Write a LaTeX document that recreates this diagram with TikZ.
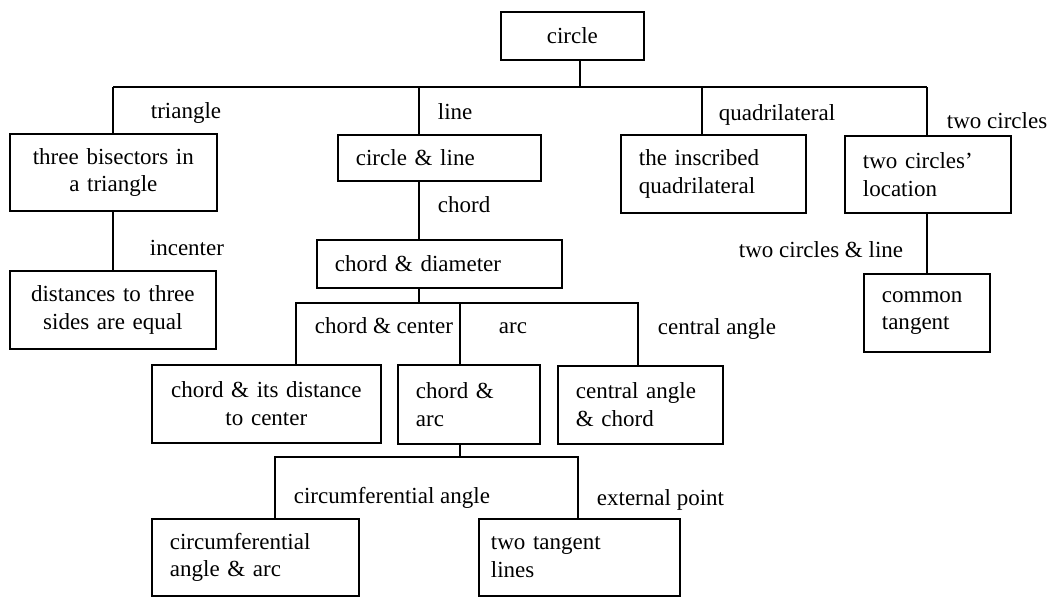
\documentclass[tikz,border=0pt]{standalone}
\usepackage{fontspec}
\setmainfont{Liberation Serif}
\begin{document}
\begin{tikzpicture}[x=0.02cm,y=-0.02cm,line width=1pt,
  every node/.style={font=\fontsize{13.1}{15.7}\selectfont},
  box/.style={draw, anchor=north west, inner xsep=0.36cm, inner ysep=0pt,
    text width=#1, align=left, minimum height=1.56cm},
  lbl/.style={anchor=base west, inner sep=0pt}]
\useasboundingbox (0,0) rectangle (1063,596);
	%boxes
	\node[box=2.14cm, align=center, minimum height=0.96cm] (root) at (500,11) {circle};
	\node[box=3.42cm, align=center, minimum height=1.54cm] (tri) at (9,133) {three bisectors in\\a triangle};
	\node[box=3.40cm, align=center] (dist) at (9,270) {distances to three\\sides are equal};
	\node[box=3.34cm, minimum height=0.92cm] (cl) at (337,134) {circle \& line};
	\node[box=4.18cm, minimum height=0.96cm] (cd) at (316,239) {chord \& diameter};
	\node[box=3.86cm, align=center] (cdc) at (151,364) {chord \& its distance\\to center};
	\node[box=2.12cm, minimum height=1.58cm] (ca) at (397,364) {chord \&\\arc};
	\node[box=2.58cm] (cac) at (557,365) {central angle\\\& chord};
	\node[box=3.42cm, minimum height=1.54cm] (caa) at (151,518) {circumferential\\angle \& arc};
	\node[box=3.54cm, inner xsep=0.24cm, minimum height=1.54cm] (ttl) at (478,518) {two tangent\\lines};
	\node[box=2.98cm] (iq) at (620,134) {the inscribed\\quadrilateral};
	\node[box=2.60cm, minimum height=1.54cm] (tcl) at (844,135) {two circles'\\location};
	\node[box=1.80cm] (ct) at (863,273) {common\\tangent};
	%junctions
	\coordinate (s0) at (580,87);
	\coordinate (b1) at (113,87);
	\coordinate (b2) at (419,87);
	\coordinate (b3) at (702,87);
	\coordinate (b4) at (927,87);
	\coordinate (c1) at (296,303);
	\coordinate (c2) at (460,303);
	\coordinate (c3) at (638,303);
	\coordinate (d1) at (275,457);
	\coordinate (d2) at (578,457);
	%connectors
	\draw (s0 |- root.south) -- (s0);
	\draw (b1) -- (b4);
	\draw (b1) -- (b1 |- tri.north);
	\draw (b2) -- (b2 |- cl.north);
	\draw (b3) -- (b3 |- iq.north);
	\draw (b4) -- (b4 |- tcl.north);
	\draw (b1 |- tri.south) -- (b1 |- dist.north);
	\draw (b2 |- cl.south) -- (b2 |- cd.north);
	\draw (b4 |- tcl.south) -- (b4 |- ct.north);
	\draw (b2 |- cd.south) -- (b2 |- c1);
	\draw (c1 |- cdc.north) -- (c1) -- (c3) -- (c3 |- cac.north);
	\draw (c2) -- (c2 |- ca.north);
	\draw (c2 |- ca.south) -- (c2 |- d1);
	\draw (d1 |- caa.north) -- (d1) -- (d2) -- (d2 |- ttl.north);
%labels
\node[lbl] (l-tri) at (150,118) {triangle};
\node[lbl] (l-line) at (437,119) {line};
\node[lbl] (l-quad) at (718,120) {quadrilateral};
\node[lbl] (l-two) at (946,128) {two circles};
\node[lbl] (l-chord) at (437,212) {chord};
\node[lbl] (l-inc) at (149,255) {incenter};
\node[lbl] (l-twol) at (738,257) {two circles \& line};
\node[lbl] (l-cc) at (314,333) {chord \& center};
\node[lbl] (l-arc) at (498,333) {arc};
\node[lbl] (l-ca) at (657,334) {central angle};
\node[lbl] (l-circ) at (293,503) {circumferential angle};
\node[lbl] (l-ext) at (596,505) {external point};
\end{tikzpicture}
\end{document}
